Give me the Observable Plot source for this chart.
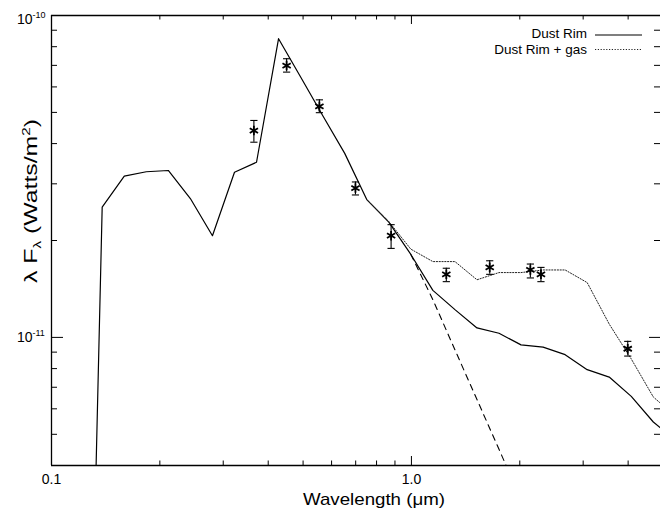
<!DOCTYPE html>
<html><head><meta charset="utf-8">
<script src="https://cdn.jsdelivr.net/npm/d3@7"></script>
<script src="https://cdn.jsdelivr.net/npm/@observablehq/plot@0.6"></script>
<style>body{margin:0;background:#fff;} svg{display:block;}</style>
</head><body><div id="chart"></div>
<script>
// model wavelength grid (micron)
const wl = [0.120, 0.1383, 0.1593, 0.1834, 0.2111, 0.2431, 0.2800, 0.3224, 0.3712, 0.4274, 0.4922, 0.5667, 0.6526, 0.7514, 0.8652, 0.9962, 1.147, 1.321, 1.521, 1.751, 2.016, 2.322, 2.673, 3.078, 3.544, 4.081, 4.699, 5.411];
// Dust Rim model (W/m^2)
const dustRim = [3e-14, 2.54e-11, 3.17e-11, 3.27e-11, 3.30e-11, 2.70e-11, 2.07e-11, 3.26e-11, 3.50e-11, 8.47e-11, 6.44e-11, 4.89e-11, 3.73e-11, 2.68e-11, 2.28e-11, 1.81e-11, 1.40e-11, 1.22e-11, 1.07e-11, 1.03e-11, 9.48e-12, 9.33e-12, 8.84e-12, 7.94e-12, 7.53e-12, 6.56e-12, 5.46e-12, 4.79e-12];
// Dust Rim + gas model
const gasWl = [0.7514, 0.8652, 0.9962, 1.147, 1.321, 1.521, 1.751, 2.016, 2.322, 2.673, 3.078, 3.544, 4.081, 4.699, 5.411];
const dustRimGas = [2.68e-11, 2.29e-11, 1.88e-11, 1.72e-11, 1.72e-11, 1.51e-11, 1.59e-11, 1.59e-11, 1.62e-11, 1.62e-11, 1.48e-11, 1.10e-11, 8.57e-12, 6.53e-12, 5.69e-12];
// stellar photosphere (dashed)
const starWl = [0.9962, 1.147, 1.321, 1.521, 1.751, 2.016];
const star = [1.81e-11, 1.31e-11, 9.15e-12, 6.41e-12, 4.49e-12, 3.14e-12];
// observed photometry
const obsWl = [0.365, 0.450, 0.555, 0.699, 0.878, 1.25, 1.65, 2.14, 2.29, 3.99];
const obsFlux = [4.39e-11, 6.99e-11, 5.22e-11, 2.91e-11, 2.07e-11, 1.57e-11, 1.65e-11, 1.62e-11, 1.57e-11, 9.22e-12];
const obsLow = [4.04e-11, 6.67e-11, 4.99e-11, 2.77e-11, 1.89e-11, 1.49e-11, 1.57e-11, 1.53e-11, 1.49e-11, 8.75e-12];
const obsHigh = [4.72e-11, 7.34e-11, 5.47e-11, 3.04e-11, 2.24e-11, 1.64e-11, 1.73e-11, 1.69e-11, 1.65e-11, 9.72e-12];
// ticks
const xMajor = [0.1, 1];
const xMajorLabels = ["0.1", "1.0"];
const xMinor = [0.2, 0.3, 0.4, 0.5, 0.6, 0.7, 0.8, 0.9, 2, 3, 4];
const yMajor = [1e-10, 1e-11];
const yMajorExp = ["-10", "-11"];
const yMinor = [2e-11, 3e-11, 4e-11, 5e-11, 6e-11, 7e-11, 8e-11, 9e-11, 5e-12, 6e-12, 7e-12, 8e-12, 9e-12];
const legendLabels = ["Dust Rim", "Dust Rim + gas"];

const W = 660, H = 508, mT = 15, mB = 43, mL = 51, mR = 0;
const fw = W - mL - mR, fh = H - mT - mB;
const font = "'Liberation Sans', Arial, Helvetica, sans-serif";

const capSymbol = {draw(ctx, size) { const r = Math.sqrt(size / Math.PI); ctx.moveTo(-r, 0); ctx.lineTo(r, 0); }};
const idx = obsWl.map((_, i) => i);

const chart = Plot.plot({
  width: W, height: H, marginTop: mT, marginBottom: mB, marginLeft: mL, marginRight: mR,
  style: {fontFamily: font, background: "white", color: "black"},
  x: {type: "log", domain: [0.1, 4.92], axis: null},
  y: {type: "log", domain: [4e-12, 1e-10], axis: null},
  marks: [
    // frame lines
    Plot.ruleY([4e-12, 1e-10], {stroke: "black", strokeWidth: 1.3}),
    Plot.ruleX([0.1], {stroke: "black", strokeWidth: 1.3}),
    // x ticks (inward, bottom and top)
    Plot.ruleX(xMinor, {x: d => d, insetTop: fh - 4.5, stroke: "black"}),
    Plot.ruleX(xMinor, {x: d => d, insetBottom: fh - 4.5, stroke: "black"}),
    Plot.ruleX([1], {x: d => d, insetTop: fh - 9, stroke: "black"}),
    Plot.ruleX([1], {x: d => d, insetBottom: fh - 9, stroke: "black"}),
    // y ticks (inward, left and right)
    Plot.ruleY(yMinor, {y: d => d, insetRight: fw - 6, stroke: "black"}),
    Plot.ruleY(yMinor, {y: d => d, insetLeft: fw - 6, stroke: "black"}),
    Plot.ruleY([1e-11], {y: d => d, insetRight: fw - 12, stroke: "black"}),
    Plot.ruleY([1e-11], {y: d => d, insetLeft: fw - 11, stroke: "black"}),
    // tick labels
    Plot.text(xMajor, {x: d => d, text: (d, i) => xMajorLabels[i], frameAnchor: "bottom", lineAnchor: "top", dy: 9, fontSize: 14}),
    Plot.text([yMajor[0]], {y: d => d, text: () => "10", frameAnchor: "left", textAnchor: "end", dx: -19, dy: 4, fontSize: 14}),
    Plot.text([yMajor[1]], {y: d => d, text: () => "10", frameAnchor: "left", textAnchor: "end", dx: -19, fontSize: 14}),
    Plot.text([yMajor[0]], {y: d => d, text: () => yMajorExp[0], frameAnchor: "left", textAnchor: "start", lineAnchor: "top", dx: -19, dy: -3.5, fontSize: 9}),
    Plot.text([yMajor[1]], {y: d => d, text: () => yMajorExp[1], frameAnchor: "left", textAnchor: "start", lineAnchor: "top", dx: -19, dy: -7.5, fontSize: 9}),
    // model curves
    Plot.line(dustRim, {x: (d, i) => wl[i], y: d => d, stroke: "black", strokeWidth: 1.2, clip: true}),
    Plot.line(dustRimGas, {x: (d, i) => gasWl[i], y: d => d, stroke: "#222", strokeWidth: 1, strokeDasharray: "1.2,1.6", clip: true}),
    Plot.line(star, {x: (d, i) => starWl[i], y: d => d, stroke: "black", strokeWidth: 1.1, strokeDasharray: "6,5", clip: true}),
    // error bars
    Plot.ruleX(idx, {x: i => obsWl[i], y1: i => obsLow[i], y2: i => obsHigh[i], stroke: "black", strokeWidth: 1.1}),
    Plot.dot(idx, {x: i => obsWl[i], y: i => obsLow[i], symbol: capSymbol, r: 3.6, stroke: "black", strokeWidth: 1.1, fill: "none"}),
    Plot.dot(idx, {x: i => obsWl[i], y: i => obsHigh[i], symbol: capSymbol, r: 3.6, stroke: "black", strokeWidth: 1.1, fill: "none"}),
    // observed points
    Plot.dot(idx, {x: i => obsWl[i], y: i => obsFlux[i], symbol: "asterisk", r: 4.5, stroke: "black", strokeWidth: 1.8})
  ]
});

const svg = d3.select(chart);
// legend
const lg = svg.append("g").attr("font-family", font).attr("font-size", 13.5);
lg.append("text").attr("x", 587).attr("y", 38.3).attr("text-anchor", "end").text(legendLabels[0]);
lg.append("text").attr("x", 587).attr("y", 53.5).attr("text-anchor", "end").text(legendLabels[1]);
lg.append("line").attr("x1", 595).attr("x2", 642).attr("y1", 35).attr("y2", 35).attr("stroke", "black").attr("stroke-width", 1.2);
lg.append("line").attr("x1", 595).attr("x2", 642).attr("y1", 49.5).attr("y2", 49.5).attr("stroke", "#222").attr("stroke-width", 1).attr("stroke-dasharray", "1.2,1.6");
// axis titles
svg.append("text").attr("x", 374).attr("y", 505).attr("text-anchor", "middle")
  .attr("font-family", font).attr("font-size", 17)
  .attr("textLength", 142).attr("lengthAdjust", "spacingAndGlyphs")
  .text("Wavelength (\u03bcm)");
const yl = svg.append("text").attr("transform", "translate(37,201) rotate(-90)").attr("text-anchor", "middle")
  .attr("font-family", font).attr("font-size", 18)
  .attr("textLength", 164).attr("lengthAdjust", "spacingAndGlyphs");
yl.append("tspan").text("\u03bb F");
yl.append("tspan").attr("dy", 4).attr("font-size", 11).text("\u03bb");
yl.append("tspan").attr("dy", -4).text(" (Watts/m");
yl.append("tspan").attr("dy", -7).attr("font-size", 11).text("2");
yl.append("tspan").attr("dy", 7).text(")");

document.getElementById("chart").appendChild(chart);
</script>
</body></html>
